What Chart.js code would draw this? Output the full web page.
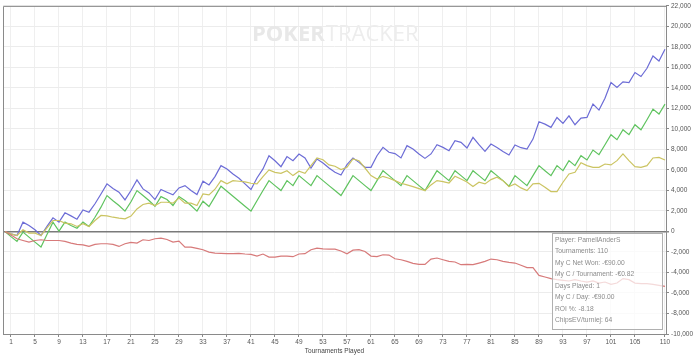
<!DOCTYPE html>
<html><head><meta charset="utf-8">
<script src="https://cdn.jsdelivr.net/npm/chart.js@4.4.1/dist/chart.umd.min.js"></script>
<style>html,body{margin:0;padding:0;background:#fff;}#wrap{width:700px;height:357px;}</style>
</head><body><div id="wrap"><canvas id="c" width="700" height="357"></canvas></div>
<script>
// Tick labels for the x axis (tournament numbers)
const xTickValues = [1,5,9,13,17,21,25,29,33,37,41,45,49,53,57,61,65,69,73,77,81,85,89,93,97,101,105,110];

// Series values, index = tournaments played (0..110)
const blueSeries = [0,-230,-390,910,580,160,-390,490,1330,910,
1820,1520,1200,2100,1880,2700,3660,4640,4200,3830,
3080,4000,5030,4150,3760,3110,4090,3830,3570,4250,
4470,3990,3600,4900,4540,5350,6420,6100,5610,5190,
4640,4090,5220,6100,7390,6900,6320,7300,6900,7550,
7170,6190,7070,6680,6190,5770,5510,6520,7170,6740,
6260,6260,7390,8200,7720,7600,7170,8370,8040,7560,
7130,7560,8460,8200,7880,8850,8690,8140,9180,8460,
7810,8530,8200,7810,7460,8430,8170,8040,9010,10700,
10470,10150,11120,10540,11280,10410,11060,11120,12420,11840,
13000,14530,14040,14590,14530,15500,15110,15920,17120,16630,17770];

const greenSeries = [0,-500,-970,-60,-550,-1040,-1520,-300,910,30,
910,580,320,910,490,1390,2370,3500,3000,2530,
1980,2900,3990,3500,3020,2460,3400,3110,2530,3400,
3020,2530,1980,2950,2430,3400,4410,3920,3440,2950,
2460,1980,3000,4000,4960,4470,3990,4960,4470,5450,
4960,4470,5450,4960,4470,3990,3500,4470,5450,4960,
4470,3990,4960,5930,5450,4960,4470,5450,4960,4470,
3990,4960,5930,5450,4960,5930,5450,4960,5930,5450,
4960,5930,5450,4960,4410,5450,4960,4470,5450,6420,
5930,5450,6420,5930,6910,6420,7390,6970,7940,7490,
8460,9440,8950,9920,9440,10410,9920,10900,11930,11450,12420];

const yellowSeries = [0,-230,-390,160,-160,-160,-390,360,1070,1070,
810,750,490,750,490,1070,1560,1520,1390,1300,
1230,1500,2200,2630,2760,2530,2850,2850,2760,3270,
2760,2760,2530,3660,3570,4120,4960,4640,4960,4900,
4830,4700,4640,5350,6000,5770,5670,5930,5450,5870,
5670,6420,7170,7000,6490,6360,6030,6260,7070,6900,
6190,5450,5120,5380,5190,4960,4700,4540,4380,4180,
3990,4540,4960,4860,4730,5380,5120,4830,4380,4800,
4640,5060,5290,4960,4380,4640,4250,3990,4640,4700,
4310,3890,3890,4800,5610,5770,6710,6420,6260,6260,
6580,6490,6910,7560,6910,6320,6260,6420,7170,7230,6970];

const redSeries = [0,-350,-710,-880,-1040,-880,-810,-880,-880,-880,
-970,-1130,-1260,-1300,-1460,-1260,-1200,-1200,-1260,-1460,
-1200,-1070,-1130,-810,-880,-710,-650,-780,-1040,-940,
-1520,-1520,-1650,-1780,-2010,-2110,-2140,-2170,-2170,-2140,
-2200,-2240,-2400,-2200,-2500,-2500,-2400,-2400,-2460,-2200,
-2170,-1780,-1620,-1690,-1720,-1720,-1910,-2170,-1820,-1780,
-1950,-2400,-2460,-2270,-2300,-2660,-2760,-2920,-3110,-3210,
-3210,-2690,-2590,-2760,-2920,-2980,-3240,-3210,-3240,-3080,
-2920,-2690,-2760,-2920,-3020,-3080,-3300,-3530,-3530,-4280,
-4440,-4600,-4700,-4770,-4830,-4700,-4830,-4930,-4830,-5030,
-4930,-5160,-5030,-4600,-4700,-5030,-5090,-5090,-5160,-5250,-5350];

const infoLines = ['Player: PamellAnderS','Tournaments: 110','My C Net Won: -€90.00','My C / Tournament: -€0.82','Days Played: 1','My C / Day: -€90.00','ROI %: -8.18','ChipsEV/turniej: 64'];

const FONT = '"Liberation Sans", Arial, sans-serif';
const toPoints = arr => arr.map((v, i) => ({x: i, y: v}));

const framePlugin = {
  id: 'frame',
  beforeDatasetsDraw(chart) {
    const {ctx, chartArea: a} = chart;
    ctx.save();
    // watermark
    ctx.textBaseline = 'alphabetic';
    ctx.font = 'bold 22px "Open Sans", sans-serif';
    ctx.fillStyle = '#e8e8e8';
    ctx.fillText('POKER', 252, 41);
    const w = ctx.measureText('POKER').width;
    ctx.font = '22px "Open Sans", sans-serif';
    ctx.fillStyle = '#ededed';
    ctx.fillText('TRACKER', 252 + w + 1, 41);
    // top and left border
    ctx.strokeStyle = '#8a8a8a';
    ctx.lineWidth = 1;
    ctx.beginPath();
    ctx.moveTo(a.left + 0.5, a.bottom);
    ctx.lineTo(a.left + 0.5, a.top + 0.5);
    ctx.lineTo(a.right, a.top + 0.5);
    ctx.stroke();
    ctx.restore();
  },
  afterDatasetsDraw(chart) {
    const {ctx} = chart;
    ctx.save();
    ctx.fillStyle = 'rgba(255,255,255,0.72)';
    ctx.fillRect(552.5, 233.5, 110, 96);
    ctx.strokeStyle = '#b0b0b0';
    ctx.lineWidth = 1;
    ctx.strokeRect(552.5, 233.5, 110, 96);
    ctx.font = '6.7px ' + FONT;
    ctx.fillStyle = '#8c8c8c';
    ctx.textBaseline = 'middle';
    infoLines.forEach((t, i) => ctx.fillText(t, 555, 240 + i * 11.5));
    ctx.restore();
  }
};

const ds = (data, color) => ({
  data: toPoints(data), borderColor: color, borderWidth: 1.2,
  pointRadius: 0, tension: 0, fill: false
});

new Chart(document.getElementById('c'), {
  type: 'line',
  data: {
    datasets: [
      ds(redSeries, '#d77a7a'),
      ds(yellowSeries, '#cbc462'),
      ds(greenSeries, '#5fc35f'),
      ds(blueSeries, '#6c6cd6')
    ]
  },
  options: {
    responsive: false,
    animation: false,
    devicePixelRatio: 1,
    layout: {padding: {left: 3, top: 5, right: 0, bottom: 0}},
    plugins: {legend: {display: false}, tooltip: {enabled: false}},
    scales: {
      x: {
        type: 'linear', position: 'bottom', min: -0.33, max: 110.17,
        afterBuildTicks: s => { s.ticks = xTickValues.map(v => ({value: v})); },
        afterFit: s => { s.height = 23; },
        ticks: {autoSkip: false, maxRotation: 0, color: '#555', padding: 1,
                font: {size: 6.5, family: FONT}, callback: v => String(v)},
        grid: {color: '#efefef', lineWidth: 1, tickLength: 3, tickColor: '#888'},
        border: {color: '#8a8a8a', width: 1},
        title: {display: true, text: 'Tournaments Played', color: '#444',
                font: {size: 6.5, family: FONT}, padding: {top: 0, bottom: 2}}
      },
      y: {
        type: 'linear', position: 'right', min: -10000, max: 22000,
        afterFit: s => { s.width = 34; },
        ticks: {stepSize: 2000, color: '#555', padding: 2,
                font: {size: 6.5, family: FONT},
                callback: v => v.toLocaleString('en-US')},
        grid: {
          color: c => (c.tick && c.tick.value === 0) ? '#7a7a7a' : '#ececec',
          lineWidth: c => (c.tick && c.tick.value === 0) ? 1.5 : 1,
          tickLength: 3, tickColor: '#888'
        },
        border: {color: '#8a8a8a', width: 1}
      }
    }
  },
  plugins: [framePlugin]
});
</script></body></html>
